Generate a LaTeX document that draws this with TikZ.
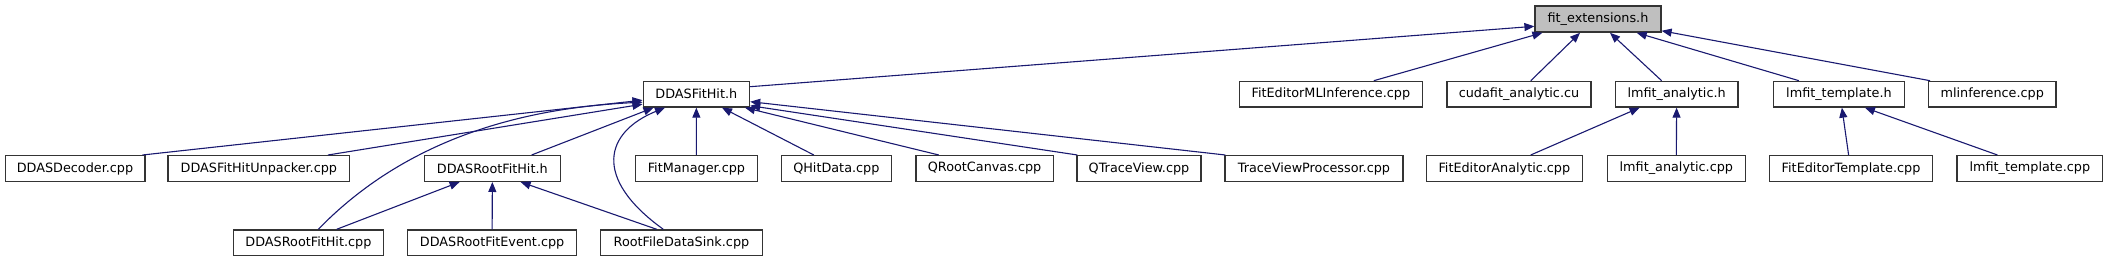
\documentclass[tikz,border=0pt]{standalone}
\usepackage{fontspec}
\setmainfont{DejaVu Sans}
\usetikzlibrary{arrows.meta}
\definecolor{edgeblue}{RGB}{25,25,112}
\definecolor{boxline}{RGB}{52,52,52}
\definecolor{boxgray}{RGB}{191,191,191}
\tikzset{
  box/.style={draw=boxline, line width=1.3pt, inner sep=0pt, anchor=north west,
    minimum height=25.7pt, font=\fontsize{12.8}{15}\selectfont, text=black},
  edge/.style={draw=edgeblue, line width=1.1pt,
    -{Triangle[length=10pt,width=8pt]}},
}
\begin{document}
\begin{tikzpicture}[x=1pt,y=1pt]
\useasboundingbox (0,0) rectangle (2107,261);
% row 0
\node[box, fill=boxgray, minimum width=125.9pt, minimum height=26pt] (fe) at (1534.4,255.5) {fit\_extensions.h};
% row 1
\node[box, minimum width=106.4pt] (fh)  at (642.5,180.3) {DDASFitHit.h};
\node[box, minimum width=182.8pt] (fml) at (1238.8,180.3) {FitEditorMLInference.cpp};
\node[box, minimum width=143.9pt] (cu)  at (1446.4,180.3) {cudafit\_analytic.cu};
\node[box, minimum width=122.7pt] (lah) at (1614.6,180.3) {lmfit\_analytic.h};
\node[box, minimum width=130.8pt] (lth) at (1772.9,180.3) {lmfit\_template.h};
\node[box, minimum width=127.2pt] (mli) at (1928,180.3) {mlinference.cpp};
% row 2
\node[box, minimum width=139.7pt] (dec) at (4.5,106) {DDASDecoder.cpp};
\node[box, minimum width=181.7pt] (unp) at (167.4,106) {DDASFitHitUnpacker.cpp};
\node[box, minimum width=136.2pt] (rfh) at (423.6,106) {DDASRootFitHit.h};
\node[box, minimum width=121.9pt] (fm)  at (634.8,106) {FitManager.cpp};
\node[box, minimum width=109.8pt] (qhd) at (780.8,106) {QHitData.cpp};
\node[box, minimum width=137.5pt] (qrc) at (915.2,106) {QRootCanvas.cpp};
\node[box, minimum width=124.1pt] (qtv) at (1076.3,106) {QTraceView.cpp};
\node[box, minimum width=178pt]   (tvp) at (1224.3,106) {TraceViewProcessor.cpp};
\node[box, minimum width=156pt]   (fea) at (1425.7,106) {FitEditorAnalytic.cpp};
\node[box, minimum width=138.4pt] (lac) at (1606.5,106) {lmfit\_analytic.cpp};
\node[box, minimum width=163.2pt] (fet) at (1768.8,106) {FitEditorTemplate.cpp};
\node[box, minimum width=145.6pt] (ltc) at (1956.4,106) {lmfit\_template.cpp};
% row 3
\node[box, minimum width=150.4pt] (rfc) at (232.6,31.7) {DDASRootFitHit.cpp};
\node[box, minimum width=168.8pt] (rfe) at (407.1,31.7) {DDASRootFitEvent.cpp};
\node[box, minimum width=161.6pt] (rds) at (600,31.7) {RootFileDataSink.cpp};
% edges to fit_extensions.h
\draw[edge] ([yshift=-6pt]fh.north east) -- ([yshift=6.5pt]fe.south west);
\draw[edge] ([xshift=135pt]fml.north west) -- ([xshift=8pt]fe.south west);
\draw[edge] ([xshift=84.4pt]cu.north west) -- ([xshift=45.6pt]fe.south west);
\draw[edge] ([xshift=47pt]lah.north west) -- ([xshift=75.6pt]fe.south west);
\draw[edge] ([xshift=26pt]lth.north west) -- ([xshift=102.3pt]fe.south west);
\draw[edge] ([xshift=2pt]mli.north west) -- ([yshift=2pt]fe.south east);
% edges to lmfit headers
\draw[edge] ([xshift=105pt]fea.north west) -- ([xshift=25pt]lah.south west);
\draw[edge] (lac.north) -- (lah.south);
\draw[edge] ([xshift=79.8pt]fet.north west) -- ([xshift=69pt]lth.south west);
\draw[edge] ([xshift=41pt]ltc.north west) -- ([xshift=92pt]lth.south west);
% edges to DDASFitHit.h
\draw[edge] ([xshift=138pt]dec.north west) -- ([yshift=-6pt]fh.west);
\draw[edge] ([xshift=160.6pt]unp.north west) -- ([yshift=-10pt]fh.west);
\draw[edge] ([xshift=85.7pt]rfc.north west) .. controls (405,121) and (520,153) .. ([yshift=-8pt]fh.west);
\draw[edge] ([xshift=108pt]rfh.north west) -- ([xshift=11pt]fh.south west);
\draw[edge] ([xshift=63.3pt]rds.north west) .. controls (592,83) and (605,129) .. ([xshift=22.5pt]fh.south west);
\draw[edge] (fm.north) -- (fh.south);
\draw[edge] ([xshift=33pt]qhd.north west) -- ([xshift=79.5pt]fh.south west);
\draw[edge] ([xshift=23.6pt]qrc.north west) -- ([xshift=102.5pt]fh.south west);
\draw[edge] ([xshift=1pt]qtv.north west) -- ([yshift=2pt]fh.south east);
\draw[edge] ([xshift=1pt]tvp.north west) -- ([yshift=6pt]fh.south east);
% edges to DDASRootFitHit.h
\draw[edge] ([xshift=104.1pt]rfc.north west) -- ([xshift=36pt]rfh.south west);
\draw[edge] (rfe.north) -- (rfh.south);
\draw[edge] ([xshift=56.7pt]rds.north west) -- ([xshift=97pt]rfh.south west);
\end{tikzpicture}
\end{document}
